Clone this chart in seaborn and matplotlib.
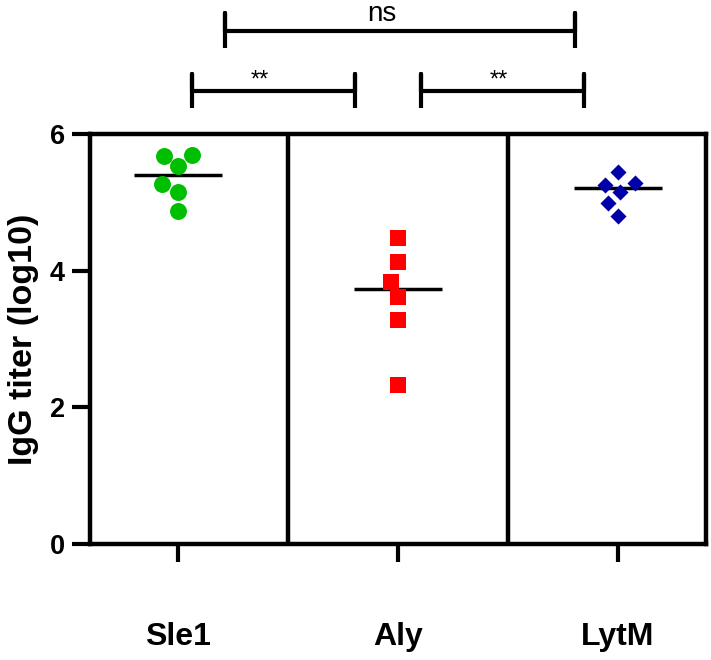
import pandas as pd
import seaborn as sns
import matplotlib.pyplot as plt


#Data (IgG titer, log10)
groups = ["Sle1", "Aly", "LytM"]
sle1_titer = [5.69, 5.53, 5.68, 5.27, 5.15, 4.88]
aly_titer = [4.48, 4.13, 3.83, 3.62, 3.28, 2.32]
lytm_titer = [5.28, 5.45, 5.26, 5.15, 4.99, 4.80]
y_ticks = [0, 2, 4, 6]

#Significance comparisons: (left group, right group, label)
comparisons = [("Sle1", "Aly", "**"), ("Aly", "LytM", "**"), ("Sle1", "LytM", "ns")]


def build_data():
    df = pd.DataFrame({
        "group": ["Sle1"] * len(sle1_titer) + ["Aly"] * len(aly_titer) + ["LytM"] * len(lytm_titer),
        "titer": sle1_titer + aly_titer + lytm_titer,
    })
    return df


def draw_bracket(ax, x1, x2, y, h, label, fs, tx, ty):
    ax.plot([x1, x1, x1, x2, x2, x2], [y - h, y + h, y, y, y + h, y - h],
            color="black", lw=3, clip_on=False, solid_capstyle="butt")
    ax.text(tx, ty, label, ha="center", va="baseline", fontsize=fs, color="black",
            family="Liberation Sans", clip_on=False)


def plot_titers(df):
    fig = plt.figure(figsize=(7.11, 6.6), dpi=100)
    ax = fig.add_axes([0.1266, 0.1758, 0.8664, 0.6212])

    #diamond as a 4-sided polygon so its full width counts in the swarm spacing
    styles = {"Sle1": ("o", "#00BF00", 12.2),
              "Aly": ("s", "#FF0000", 11.5),
              "LytM": ((4, 0, 0), "#0000A8", 11.6)}
    for g in groups:
        marker, color, size = styles[g]
        sns.swarmplot(data=df[df["group"] == g], x="group", y="titer", order=groups,
                      marker=marker, color=color, size=size, linewidth=0, ax=ax, zorder=3)

    #Median lines (drawn below the points)
    sns.boxplot(data=df, x="group", y="titer", order=groups, width=0.4,
                showbox=False, showcaps=False, showfliers=False,
                whiskerprops={"visible": False},
                medianprops={"color": "black", "linewidth": 2.5, "zorder": 2}, ax=ax)

    #Group separators
    for xv in [0.5, 1.5]:
        ax.axvline(xv, color="black", lw=3.2, zorder=1)

    ax.set_xlim(-0.4, 2.4)
    ax.set_ylim(0, 6)
    ax.set_yticks(y_ticks)
    for s in ax.spines.values():
        s.set_linewidth(3.2)
        s.set_color("black")

    ax.tick_params(axis="both", direction="out", length=13, width=3, color="black",
                   labelcolor="black", bottom=True, left=True)
    ax.tick_params(axis="x", pad=43)
    ax.tick_params(axis="y", pad=5)
    ax.set_xticks(range(len(groups)))
    ax.set_xticklabels(groups, fontsize=23, fontweight="bold", family="Liberation Sans")
    for lab in ax.get_yticklabels():
        lab.set_fontsize(19.5)
        lab.set_fontweight("bold")
        lab.set_family("Liberation Sans")
    ax.set_xlabel("")
    ax.set_ylabel("IgG titer (log10)", fontsize=24.5, fontweight="bold", color="black",
                  family="Liberation Sans", labelpad=8)

    #Significance brackets (offsets from the group positions)
    pos = {g: i for i, g in enumerate(groups)}
    bracket_spec = {
        ("Sle1", "Aly"): (0.064, -0.195, 6.63, 0.25, 17, 0.37, 6.70),
        ("Aly", "LytM"): (0.105, -0.155, 6.63, 0.25, 17, 0.46, 6.70),
        ("Sle1", "LytM"): (0.214, -0.195, 7.51, 0.255, 20, 0.927, 7.66),
    }
    for a, b, label in comparisons:
        dx1, dx2, y, h, fs, dtx, ty = bracket_spec[(a, b)]
        draw_bracket(ax, pos[a] + dx1, pos[b] + dx2, y, h, label, fs, pos[a] + dtx, ty)

    fig.savefig("out.png", dpi=100)


def main():
    sns.set_style("ticks")
    df = build_data()
    plot_titers(df)


if __name__ == "__main__":
    main()
